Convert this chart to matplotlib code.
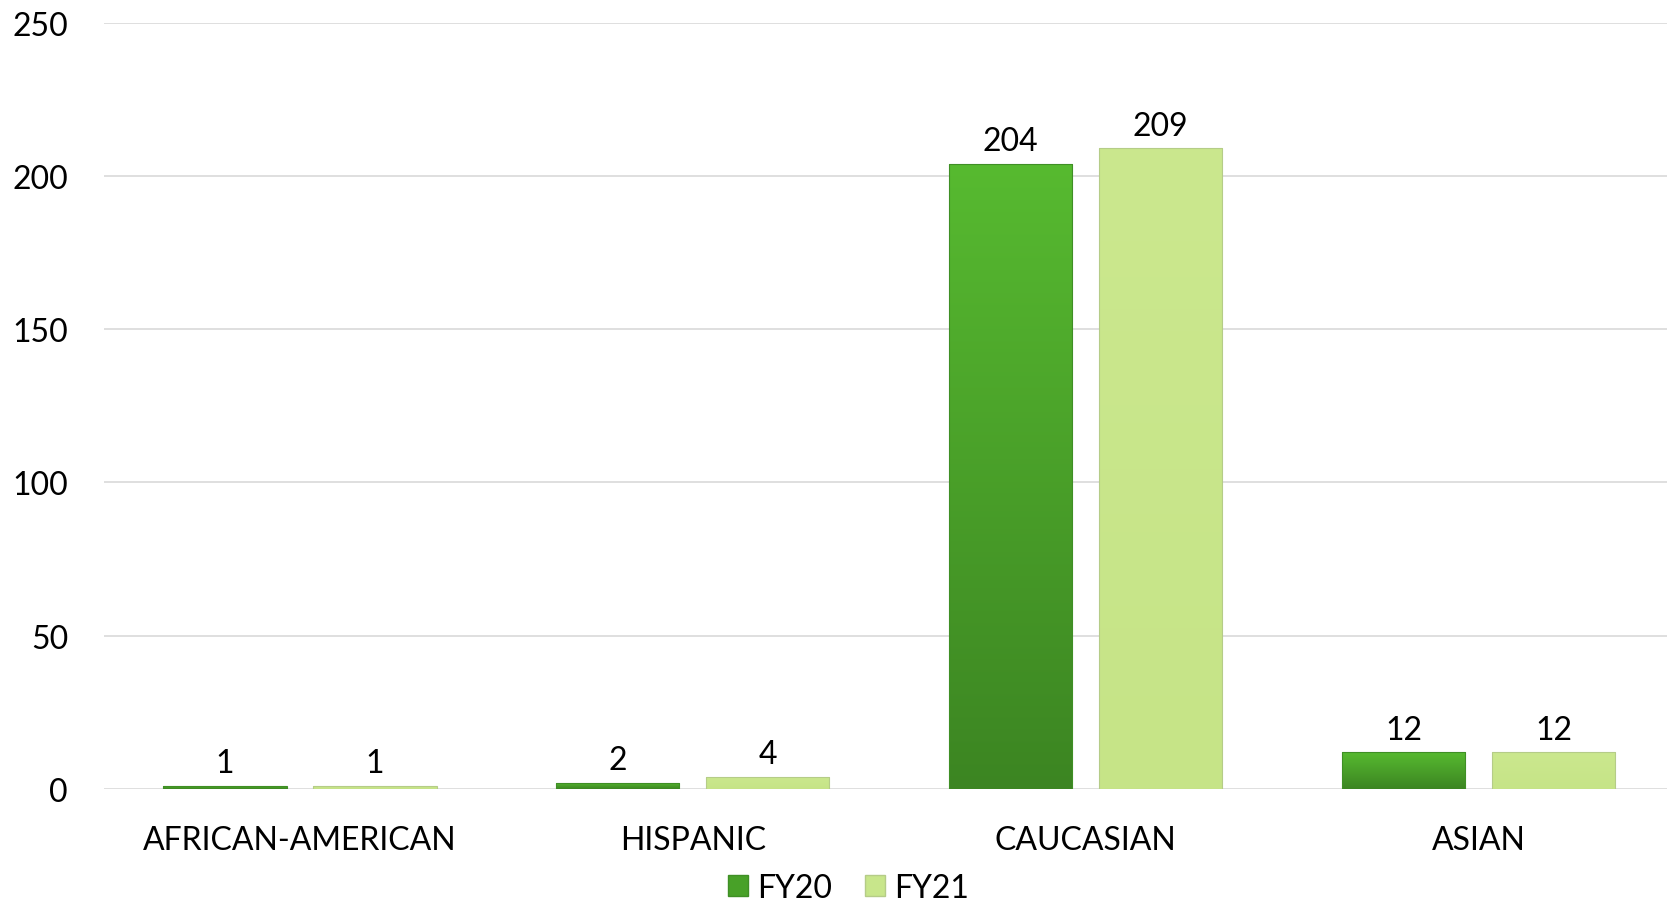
import numpy as np
import matplotlib.pyplot as plt
from matplotlib.colors import LinearSegmentedColormap
from matplotlib.patches import Patch

plt.rcParams['font.family'] = ['Lato', 'DejaVu Sans']

categories = ['AFRICAN-AMERICAN', 'HISPANIC', 'CAUCASIAN', 'ASIAN']
fy20 = [1, 2, 204, 12]
fy21 = [1, 4, 209, 12]
series_names = ['FY20', 'FY21']

fig = plt.figure(figsize=(16.67, 9.04), dpi=100)
ax = fig.add_axes([0.0621, 0.126, 0.9426, 0.848])

x = np.arange(len(categories))
width = 0.314
offset = 0.191

# vertical gradients for the two series (bottom colour, top colour)
grad20 = LinearSegmentedColormap.from_list('g20', ['#3c8522', '#57ba30'])
grad21 = LinearSegmentedColormap.from_list('g21', ['#c6e487', '#cbe88e'])

bars20 = ax.bar(x - offset, fy20, width, color='none', edgecolor='#3f8f25', linewidth=0.8, zorder=3)
bars21 = ax.bar(x + offset, fy21, width, color='none', edgecolor='#b5cc88', linewidth=0.8, zorder=3)

ax.set_xlim(-0.5, len(categories) - 0.5)
ax.set_ylim(0, 250)

grad = np.linspace(0, 1, 256).reshape(-1, 1)
for bars, cmap in [(bars20, grad20), (bars21, grad21)]:
    for b in bars:
        x0, y0 = b.get_x(), b.get_y()
        w, h = b.get_width(), b.get_height()
        im = ax.imshow(grad, cmap=cmap, origin='lower', aspect='auto',
                       extent=[x0, x0 + w, y0, y0 + h], zorder=2)
        im.set_clip_path(b)

for bars, vals in [(bars20, fy20), (bars21, fy21)]:
    for b, v in zip(bars, vals):
        ax.text(b.get_x() + b.get_width() / 2, v + 2.5, str(v),
                ha='center', va='bottom', fontsize=23, color='black')

ax.set_yticks([0, 50, 100, 150, 200, 250])
ax.set_xticks(x)
ax.set_xticklabels(categories)
ax.tick_params(axis='y', length=0, labelsize=23, pad=25.5)
ax.tick_params(axis='x', length=0, labelsize=23, pad=26)
ax.yaxis.grid(True, color='#d9d9d9', linewidth=1.2, zorder=0)
ax.set_axisbelow(True)
for s in ax.spines.values():
    s.set_visible(False)

handles = [Patch(facecolor='#48a128', edgecolor='#3f8f25'),
           Patch(facecolor='#c8e68b', edgecolor='#b5cc88')]
fig.legend(handles, series_names, loc='center', bbox_to_anchor=(0.509, 0.017),
           ncol=2, frameon=False, fontsize=23, handlelength=0.63, handleheight=0.63,
           handletextpad=0.3, columnspacing=1.0)

fig.savefig('out.png', dpi=100)
